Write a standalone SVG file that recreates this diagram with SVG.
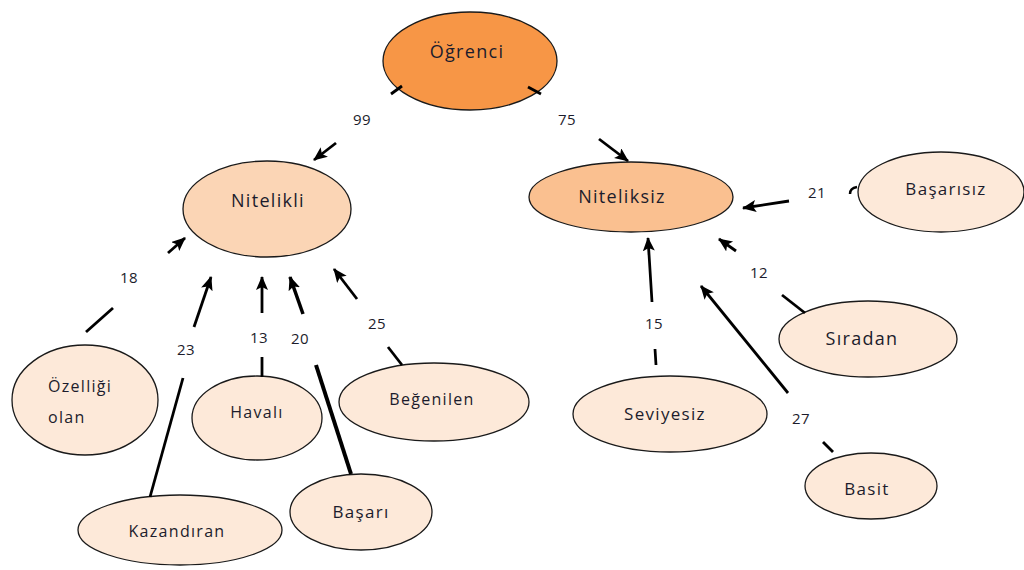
<svg xmlns="http://www.w3.org/2000/svg" width="1024" height="570" viewBox="0 0 1024 570">
<style>
.n{stroke:#1a1a1a;stroke-width:1.3}
.l0{fill:#FDE9D9}
.l1{fill:#FBD5B5}
.l2{fill:#FAC090}
.l3{fill:#F79646}
text{font-family:"Open Sans","Liberation Sans",sans-serif;fill:#1c1c2c}
.t18{font-size:18px;letter-spacing:1.3px;text-anchor:middle}
.t17{font-size:17px;letter-spacing:1.3px;text-anchor:middle}
.t16{font-size:16px;letter-spacing:1.3px;text-anchor:middle}
.num{font-size:15px;letter-spacing:0.5px;text-anchor:middle}
.e{stroke:#000;stroke-width:2.8;fill:none;stroke-linecap:butt}
.a{stroke:#000;stroke-width:2.8;fill:none;marker-end:url(#ah)}
</style>
<defs>
<marker id="ah" markerUnits="userSpaceOnUse" markerWidth="16" markerHeight="14" refX="13" refY="6" orient="auto">
<path d="M0,0 L14,6 L0,12 L3,6 Z" fill="#000"/>
</marker>
</defs>
<rect width="1024" height="570" fill="#fff"/>
<g id="ogrenci"><ellipse class="n l3" cx="470" cy="61" rx="87" ry="49"/><text class="t18" x="467" y="58">Öğrenci</text></g>
<g id="nitelikli"><ellipse class="n l1" cx="267" cy="209" rx="84" ry="48"/><text class="t18" x="268" y="207">Nitelikli</text></g>
<g id="niteliksiz"><ellipse class="n l2" cx="631" cy="197" rx="102" ry="35"/><text class="t18" x="622" y="203">Niteliksiz</text></g>
<g id="basarisiz"><ellipse class="n l0" cx="941" cy="192" rx="83" ry="40"/><text class="t17" x="946" y="195">Başarısız</text></g>
<g id="siradan"><ellipse class="n l0" cx="868" cy="339" rx="89" ry="38"/><text class="t18" x="862" y="345">Sıradan</text></g>
<g id="seviyesiz"><ellipse class="n l0" cx="670" cy="414" rx="97" ry="38"/><text class="t17" x="665" y="420">Seviyesiz</text></g>
<g id="basit"><ellipse class="n l0" cx="871" cy="486" rx="66" ry="33"/><text class="t17" x="867" y="495">Basit</text></g>
<g id="ozelligi"><ellipse class="n l0" cx="85" cy="400" rx="73" ry="55"/><text style="font-size:16px;letter-spacing:1.3px" x="48" y="392">Özelliği</text><text style="font-size:16px;letter-spacing:1.3px" x="48" y="423">olan</text></g>
<g id="havali"><ellipse class="n l0" cx="257" cy="418" rx="65" ry="42"/><text class="t16" x="257" y="418">Havalı</text></g>
<g id="begenilen"><ellipse class="n l0" cx="434" cy="402" rx="95" ry="39"/><text class="t16" x="432" y="405">Beğenilen</text></g>
<g id="basari"><ellipse class="n l0" cx="361" cy="512" rx="71" ry="38"/><text class="t17" x="361" y="518">Başarı</text></g>
<g id="kazandiran"><ellipse class="n l0" cx="180" cy="530" rx="102" ry="35"/><text class="t16" x="177" y="537">Kazandıran</text></g>
<g id="edges">
<line class="e" x1="391" y1="94" x2="402" y2="86"/>
<line class="a" x1="336" y1="143" x2="314" y2="160"/>
<text class="num" x="362" y="125">99</text>
<line class="e" x1="528" y1="87" x2="541" y2="94"/>
<line class="a" x1="599" y1="139" x2="628" y2="161"/>
<text class="num" x="567" y="125">75</text>
<line class="e" x1="86" y1="332" x2="113" y2="308"/>
<line class="a" x1="168" y1="253" x2="185" y2="238"/>
<text class="num" x="129" y="283">18</text>
<line class="e" x1="150" y1="497" x2="183" y2="378"/>
<line class="a" x1="194" y1="327" x2="211" y2="277"/>
<text class="num" x="186" y="355">23</text>
<line class="e" x1="262" y1="357" x2="262" y2="377"/>
<line class="a" x1="262" y1="313" x2="262" y2="277"/>
<text class="num" x="259" y="343">13</text>
<line class="e" x1="316" y1="365" x2="351" y2="474" style="stroke-width:4"/>
<line class="a" x1="303" y1="314" x2="290" y2="277" style="stroke-width:3.5"/>
<text class="num" x="300" y="344">20</text>
<line class="e" x1="388" y1="347" x2="402" y2="365"/>
<line class="a" x1="357" y1="299" x2="334" y2="269"/>
<text class="num" x="377" y="329">25</text>
<path class="e" d="M850,194 Q850,188 857,187" style="stroke-width:2.5"/>
<line class="a" x1="789" y1="201" x2="743" y2="208"/>
<text class="num" x="817" y="198">21</text>
<line class="e" x1="782" y1="295" x2="805" y2="313"/>
<line class="a" x1="736" y1="251" x2="719" y2="239"/>
<text class="num" x="759" y="278">12</text>
<line class="e" x1="655" y1="349" x2="656" y2="365"/>
<line class="a" x1="652" y1="302" x2="648" y2="238"/>
<text class="num" x="654" y="329">15</text>
<line class="e" x1="823" y1="442" x2="833" y2="452"/>
<line class="a" x1="788" y1="393" x2="701" y2="286"/>
<text class="num" x="801" y="424">27</text>
</g>
</svg>
